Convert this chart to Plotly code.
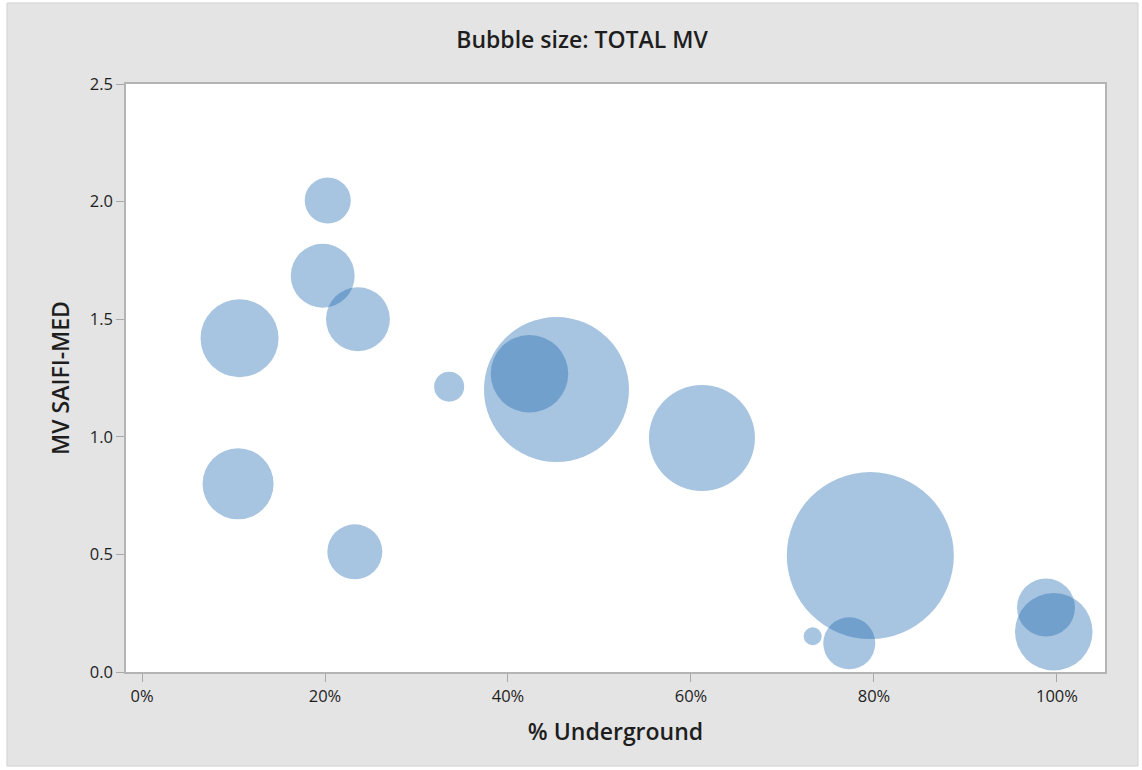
import plotly.graph_objects as go

# Data
pct_underground = [20.3, 19.75, 23.6, 10.66, 10.5, 23.26, 33.57, 45.3, 42.35, 61.2, 79.6, 73.3, 77.3, 98.8, 99.65]
mv_saifi_med = [2.005, 1.685, 1.50, 1.419, 0.80, 0.511, 1.213, 1.201, 1.268, 0.995, 0.495, 0.152, 0.122, 0.274, 0.171]
total_mv = [530, 1020, 1020, 1520, 1260, 756, 225, 5256, 1505, 2809, 6972, 81, 676, 841, 1505]

x_ticks = [0, 20, 40, 60, 80, 100]
x_tick_labels = ["0%", "20%", "40%", "60%", "80%", "100%"]
y_ticks = [0.0, 0.5, 1.0, 1.5, 2.0, 2.5]

FONT = "Open Sans, Noto Sans, sans-serif"
TXT = "#1e1e1e"

fig = go.Figure()
fig.add_trace(go.Scatter(
    x=pct_underground,
    y=mv_saifi_med,
    mode="markers",
    marker=dict(
        size=total_mv,
        sizemode="area",
        sizeref=0.5,
        color="rgb(35,107,178)",
        opacity=0.4,
        line=dict(width=0),
    ),
    hoverinfo="x+y",
    showlegend=False,
))

# outer gray frame and white plot area
fig.add_shape(type="rect", xref="paper", yref="paper",
              x0=-0.1216, x1=1.0337, y0=-0.160, y1=1.1378,
              fillcolor="#e4e4e4", line=dict(color="#d2d2d2", width=1), layer="below")
fig.add_shape(type="rect", xref="paper", yref="paper",
              x0=0, x1=1, y0=0, y1=1,
              fillcolor="white", line=dict(width=0), layer="below")

fig.update_layout(
    width=1142, height=770,
    margin=dict(l=126, r=37, t=84, b=98),
    paper_bgcolor="white",
    plot_bgcolor="white",
    font=dict(family=FONT, color=TXT, size=16),
    title=dict(text="Bubble size: TOTAL MV", x=582 / 1142, xanchor="center",
               y=1 - 40 / 770, yanchor="middle",
               font=dict(size=23, family=FONT, color=TXT, weight=600)),
)
fig.update_xaxes(
    range=[-1.75, 105.25],
    tickvals=x_ticks, ticktext=x_tick_labels,
    ticks="outside", ticklen=8, tickcolor="#a8a8a8", tickwidth=1,
    showgrid=False, zeroline=False,
    showline=True, linecolor="#b4b4b4", linewidth=1.5, mirror=True,
    tickfont=dict(size=16.5, weight=500),
    title=dict(text="% Underground", font=dict(size=23, weight=600), standoff=18),
)
fig.update_yaxes(
    range=[0, 2.5],
    tickvals=y_ticks, tickformat=".1f",
    ticks="outside", ticklen=8, tickcolor="#a8a8a8", tickwidth=1,
    showgrid=False, zeroline=False,
    showline=True, linecolor="#b4b4b4", linewidth=1.5, mirror=True,
    tickfont=dict(size=16.5, weight=500),
    title=dict(text="MV SAIFI-MED", font=dict(size=23, weight=600), standoff=14),
)

fig.write_html("out.html", config={"displayModeBar": False},
               post_script="document.body.style.margin='0';")
